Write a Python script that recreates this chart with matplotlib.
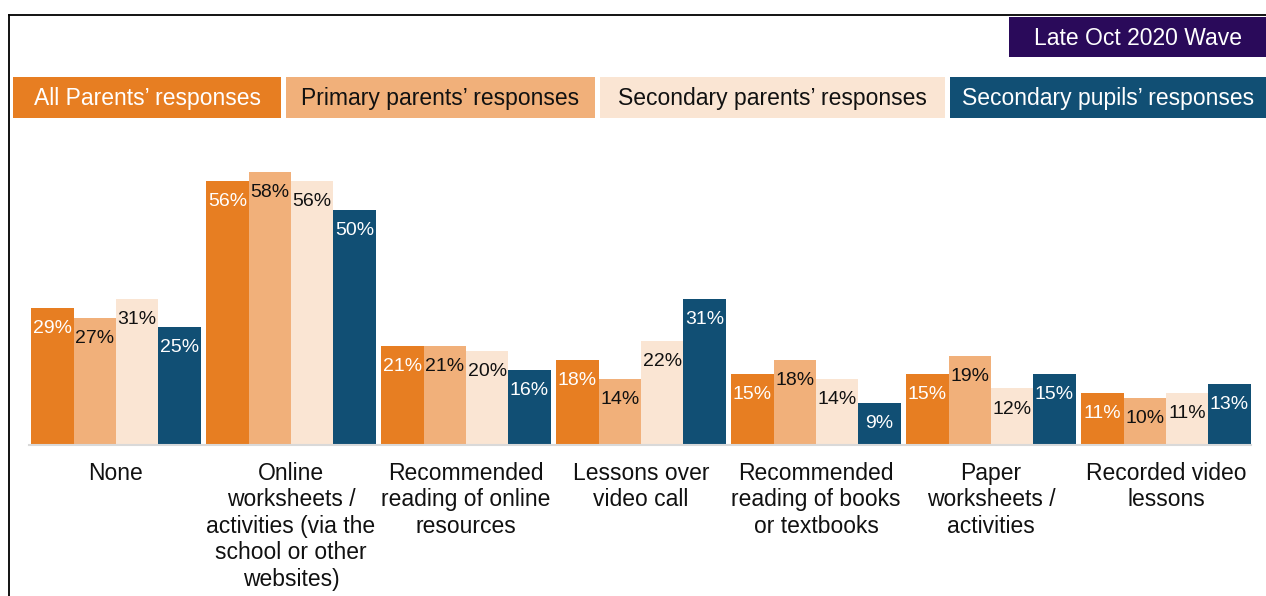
import matplotlib
matplotlib.use("Agg")
import matplotlib.pyplot as plt
from matplotlib.patches import Rectangle
from matplotlib.lines import Line2D
import numpy as np

plt.rcParams['font.family'] = ['Liberation Sans', 'DejaVu Sans']

categories = [
    "None",
    "Online\nworksheets /\nactivities (via the\nschool or other\nwebsites)",
    "Recommended\nreading of online\nresources",
    "Lessons over\nvideo call",
    "Recommended\nreading of books\nor textbooks",
    "Paper\nworksheets /\nactivities",
    "Recorded video\nlessons",
]
series_names = [
    "All Parents\u2019 responses",
    "Primary parents\u2019 responses",
    "Secondary parents\u2019 responses",
    "Secondary pupils\u2019 responses",
]
all_parents = [29, 56, 21, 18, 15, 15, 11]
primary_parents = [27, 58, 21, 14, 18, 19, 10]
secondary_parents = [31, 56, 20, 22, 14, 12, 11]
secondary_pupils = [25, 50, 16, 31, 9, 15, 13]
wave_label = "Late Oct 2020 Wave"

series = [all_parents, primary_parents, secondary_parents, secondary_pupils]
colors = ["#E77E22", "#F1B07A", "#FAE5D3", "#114F74"]
label_colors = ["white", "#111111", "#111111", "white"]

W, H = 1266, 596
fig = plt.figure(figsize=(W / 100, H / 100), dpi=100)

# plot area: baseline at y=445 px, 4.71 px per percentage point
ax = fig.add_axes([29 / W, (H - 445) / H, (1251 - 29) / W, 282.6 / H])
x = np.arange(len(categories))
bw = 0.242
for i, (vals, c, tc) in enumerate(zip(series, colors, label_colors)):
    pos = x + (i - 1.5) * bw
    ax.bar(pos, vals, width=bw, color=c, linewidth=0)
    for xp, v in zip(pos, vals):
        ax.annotate(f"{v}%", (xp, v), xytext=(0, -14.8), textcoords="offset points",
                    ha="center", va="center", fontsize=14, color=tc)

ax.set_xlim(-0.497, 6.486)
ax.set_ylim(0, 60)
ax.set_yticks([])
ax.set_xticks(x)
ax.set_xticklabels(categories, fontsize=16.5, color="#111111", linespacing=1.2)
ax.tick_params(axis="x", length=0, pad=12)
for side in ["top", "right", "left"]:
    ax.spines[side].set_visible(False)
ax.spines["bottom"].set_color("#D9D9D9")
ax.spines["bottom"].set_linewidth(1.5)
ax.patch.set_alpha(0)

# outer frame (left and top edges)
fig.add_artist(Line2D([9 / W, 9 / W], [0, (H - 14.5) / H], color="black", lw=1.3,
                      transform=fig.transFigure))
fig.add_artist(Line2D([9 / W, 1], [(H - 14.5) / H, (H - 14.5) / H], color="black", lw=1.3,
                      transform=fig.transFigure))


def box(x0, x1, y0, y1, fc, text, tc):
    fig.add_artist(Rectangle((x0 / W, (H - y1) / H), (x1 - x0) / W, (y1 - y0) / H,
                             facecolor=fc, edgecolor="none", transform=fig.transFigure))
    fig.text((x0 + x1) / 2 / W, (H - (y0 + y1) / 2 - 1.5) / H, text, ha="center", va="center",
             fontsize=16.5, color=tc)


legend_boxes = [(13, 281), (286, 595), (600, 945), (950, 1266)]
for (x0, x1), name, c, tc in zip(legend_boxes, series_names, colors, label_colors):
    box(x0, x1, 77, 118, c, name, tc)

box(1009, 1266, 17, 57, "#2A0A5A", wave_label, "white")

fig.savefig("out.png", dpi=100)
